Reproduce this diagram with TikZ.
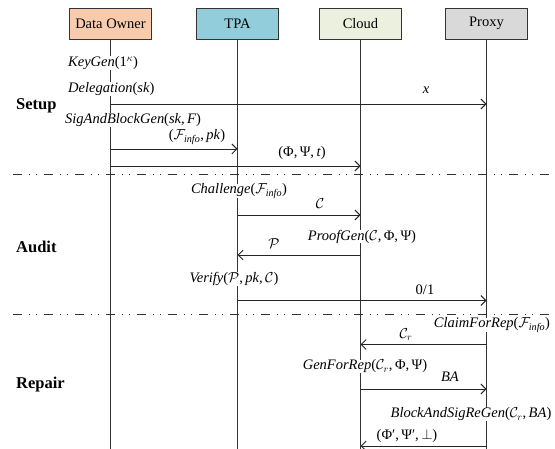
\documentclass[tikz,border=0pt]{standalone}
\usepackage{fontspec}
\setmainfont{Liberation Serif}
\usetikzlibrary{arrows.meta}
\definecolor{ownerc}{HTML}{F8CBAD}
\definecolor{tpac}{HTML}{92CDDC}
\definecolor{cloudc}{HTML}{EBF1DE}
\definecolor{proxyc}{HTML}{D9D9D9}
\newcommand{\Finfo}{$\mathcal{F}_{\mathit{info}}$}
\begin{document}
\begin{tikzpicture}[x=1pt,y=-1pt,
 actor/.style={draw=black!80, line width=0.8pt, minimum width=82pt, minimum height=31pt, inner sep=0pt, font=\fontsize{14.5}{16}\selectfont},
 life/.style={line width=0.9pt, black!80},
 msg/.style={line width=0.9pt, black!85, -{Straight Barb[length=5pt,width=10pt,line width=0.9pt]}},
 op/.style={fill=white, inner xsep=1pt, inner ysep=0pt, font=\fontsize{14.5}{16}\selectfont},
 lbl/.style={inner sep=0pt, font=\fontsize{14.5}{16}\selectfont},
 phase/.style={font=\fontsize{16.5}{18}\selectfont\bfseries, anchor=west, inner sep=0pt},
 sep/.style={line width=0.9pt, black!80, dash pattern=on 9pt off 7pt on 1pt off 6pt on 1pt off 7pt}]
\useasboundingbox (0,0) rectangle (555,449);
% actors
\node[actor, fill=ownerc] (do) at (110.5,23.5) {Data Owner};
\node[actor, fill=tpac] (tpa) at (237.5,23.5) {TPA};
\node[actor, fill=cloudc] (cl) at (360.5,23.5) {Cloud};
\node[actor, fill=proxyc] (px) at (486.5,23.5) {Proxy};
% lifelines
\coordinate (doE) at (110.5,449);
\coordinate (tpaE) at (237.5,449);
\coordinate (clE) at (360.5,449);
\coordinate (pxE) at (486.5,449);
\draw[life] (do.south) -- (doE);
\draw[life] (tpa.south) -- (tpaE);
\draw[life] (cl.south) -- (clE);
\draw[life] (px.south) -- (pxE);
% separators
\coordinate (s1a) at (13,174); \coordinate (s1b) at (555,174);
\coordinate (s2a) at (13,314); \coordinate (s2b) at (555,314);
\draw[sep] (s1a) -- (s1b);
\draw[sep] (s2a) -- (s2b);
% phases
\node[phase] (setup) at (16,106) {Setup};
\node[phase] (audit) at (16,247) {Audit};
\node[phase] (repair) at (16,385) {Repair};
% operations
\node[op, anchor=west] (kg) at (67,63) {\textit{KeyGen}(1$^{\kappa}$)};
\node[op, anchor=west] (dg) at (67,89) {\textit{Delegation}(\textit{sk})};
\node[op, anchor=west] (sb) at (64,120) {\textit{SigAndBlockGen}(\textit{sk},\,\textit{F})};
\node[op] (ch) at (239,191) {\textit{Challenge}(\Finfo)};
\node[op] (pg) at (362,236.5) {\textit{ProofGen}($\mathcal{C}$,\,Φ,\,Ψ)};
\node[op] (vf) at (234,279) {\textit{Verify}($\mathcal{P}$,\,\textit{pk},\,$\mathcal{C}$)};
\node[op] (cr) at (492,325) {\textit{ClaimForRep}(\Finfo)};
\node[op] (gr) at (365,366.5) {\textit{GenForRep}($\mathcal{C}_r$,\,Φ,\,Ψ)};
\node[op] (bs) at (471,414.5) {\textit{BlockAndSigReGen}($\mathcal{C}_r$,\,\textit{BA})};
% message end points
\coordinate (m1a) at (110.5,104); \coordinate (m1b) at (486.5,104);
\coordinate (m2a) at (110.5,149); \coordinate (m2b) at (237.5,149);
\coordinate (m3a) at (110.5,166); \coordinate (m3b) at (360.5,166);
\coordinate (m4a) at (237.5,215); \coordinate (m4b) at (360.5,215);
\coordinate (m5a) at (360.5,255); \coordinate (m5b) at (237.5,255);
\coordinate (m6a) at (237.5,300.5); \coordinate (m6b) at (486.5,300.5);
\coordinate (m7a) at (486.5,344.5); \coordinate (m7b) at (360.5,344.5);
\coordinate (m8a) at (360.5,389); \coordinate (m8b) at (486.5,389);
\coordinate (m9a) at (486.5,446); \coordinate (m9b) at (360.5,446);
\draw[msg] (m1a) -- (m1b);
\draw[msg] (m2a) -- (m2b);
\draw[msg] (m3a) -- (m3b);
\draw[msg] (m4a) -- (m4b);
\draw[msg] (m5a) -- (m5b);
\draw[msg] (m6a) -- (m6b);
\draw[msg] (m7a) -- (m7b);
\draw[msg] (m8a) -- (m8b);
\draw[msg] (m9a) -- (m9b);
% message labels
\node[lbl] (l1) at (426,90) {\textit{x}};
\node[lbl] (l2) at (197,137) {(\Finfo,\,\textit{pk})};
\node[lbl] (l3) at (302,153) {(Φ,\,Ψ,\,\textit{t})};
\node[lbl] (l4) at (320,204) {$\mathcal{C}$};
\node[lbl] (l5) at (274,244) {$\mathcal{P}$};
\node[lbl] (l6) at (425,290) {0/1};
\node[lbl] (l7) at (406,335) {$\mathcal{C}_r$};
\node[lbl] (l8) at (450,377) {\textit{BA}};
\node[lbl] (l9) at (407,436) {(Φ′,\,Ψ′,\,$\perp$)};
\end{tikzpicture}
\end{document}
